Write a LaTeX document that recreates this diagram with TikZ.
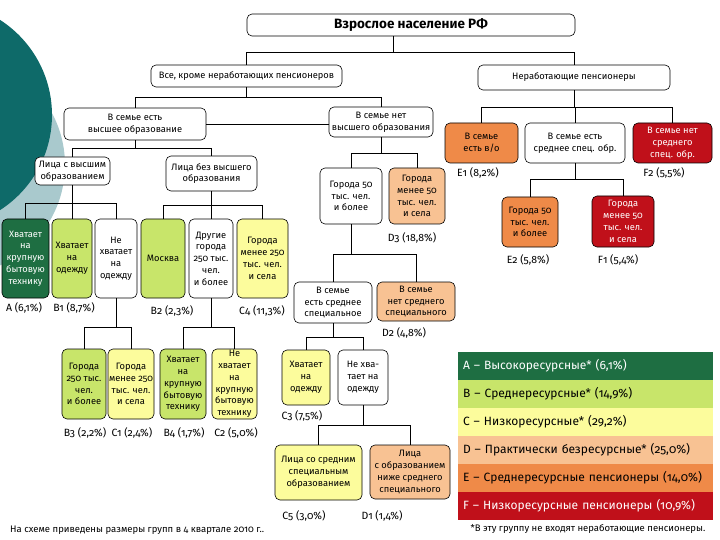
\documentclass[tikz,border=0pt]{standalone}
\usepackage{fontspec}
\setmainfont{Fira Sans}[Numbers=OldStyle]
\definecolor{cA}{HTML}{1E6E42}
\definecolor{cB}{HTML}{C8E56A}
\definecolor{cC}{HTML}{FCFC9C}
\definecolor{cD}{HTML}{F8C293}
\definecolor{cE}{HTML}{EF8A48}
\definecolor{cF}{HTML}{C0101A}
\definecolor{cTeal}{HTML}{0E6A69}
\definecolor{cLight}{HTML}{A9C9CD}
\newcommand\boxfont{\fontsize{9.3}{11.8}\selectfont}
\newcommand\lblfont{\fontsize{10.5}{12}\selectfont}
\newcommand\legfont{\fontsize{12}{14}\selectfont}
\begin{document}
\begin{tikzpicture}[x=1pt,y=-1pt,
  box/.style={draw=black, line width=0.6pt, rounded corners=5pt, align=center, inner sep=1pt, font=\boxfont, fill=white},
  lbl/.style={font=\lblfont, inner sep=0pt},
  conn/.style={draw=black, line width=0.6pt},
  leg/.style={minimum width=255pt, minimum height=28pt, text width=245pt, align=left, inner sep=0pt, font=\legfont}]
\useasboundingbox (0,0) rectangle (720,540);
\begin{scope}
\clip (0,0) rectangle (720,540);
\fill[cLight] (-45,165) circle (110pt);
\fill[cTeal] (-61,115) circle (113pt);
\end{scope}

% top levels
\node[box, minimum width=328pt, minimum height=22pt, font=\fontsize{13.5}{15}\selectfont\bfseries] (title) at (411,25) {Взрослое население РФ};
\node[box, minimum width=191pt, minimum height=22pt] (all) at (246.5,76) {Все, кроме неработающих пенсионеров};
\node[box, minimum width=192pt, minimum height=25pt] (pens) at (574,77.5) {Неработающие пенсионеры};
\node[box, minimum width=142pt, minimum height=32pt] (hi) at (135,124) {В семье есть\\высшее образование};
\node[box, minimum width=104pt, minimum height=30pt] (nohi) at (381,122) {В семье нет\\высшего образования};
\node[box, fill=cE, minimum width=73pt, minimum height=40pt] (pe) at (481.5,143) {В семье\\есть в/о};
\node[box, minimum width=100pt, minimum height=40pt] (ps) at (575,143) {В семье есть\\среднее спец. обр.};
\node[box, fill=cF, text=white, minimum width=79pt, minimum height=40pt] (pn) at (672.5,143) {В семье нет\\среднего\\спец. обр.};
\node[box, fill=cE, minimum width=56pt, minimum height=50pt] (e2) at (530,222) {Города 50\\тыс. чел.\\и более};
\node[box, fill=cF, text=white, minimum width=62pt, minimum height=51pt] (f1) at (623,221.5) {Города\\менее 50\\тыс. чел.\\и села};

% left branch
\node[box, minimum width=75pt, minimum height=28pt] (lvo) at (72.5,171) {Лица с высшим\\образованием};
\node[box, minimum width=91pt, minimum height=35pt] (lbvo) at (211.5,173.5) {Лица без высшего\\образования};
\node[box, fill=cA, text=white, minimum width=47pt, minimum height=79pt] (a) at (25.5,258.5) {Хватает\\на\\крупную\\бытовую\\технику};
\node[box, fill=cB, minimum width=40pt, minimum height=79pt] (b1) at (72,258.5) {Хватает\\на\\одежду};
\node[box, minimum width=42pt, minimum height=79pt] (nhv) at (116,258.5) {Не\\хватает\\на\\одежду};
\node[box, fill=cB, minimum width=44pt, minimum height=79pt] (msk) at (163,258.5) {Москва};
\node[box, minimum width=44pt, minimum height=79pt] (dg) at (211,258.5) {Другие\\города\\250 тыс.\\чел.\\и более};
\node[box, fill=cC, minimum width=51pt, minimum height=79pt] (c4) at (262.5,258.5) {Города\\менее 250\\тыс. чел.\\и села};
\node[box, fill=cB, minimum width=44pt, minimum height=70pt] (b3) at (84,384) {Города\\250 тыс.\\чел.\\и более};
\node[box, fill=cC, minimum width=46pt, minimum height=70pt] (c1) at (131,384) {Города\\менее 250\\тыс. чел.\\и села};
\node[box, fill=cB, minimum width=46pt, minimum height=70pt] (b4) at (183,384) {Хватает\\на\\крупную\\бытовую\\технику};
\node[box, fill=cC, minimum width=45pt, minimum height=70pt] (c2) at (234.5,384) {Не\\хватает\\на\\крупную\\бытовую\\технику};

% middle branch
\node[box, minimum width=62pt, minimum height=56pt] (g50) at (351,196) {Города 50\\тыс. чел.\\и более};
\node[box, fill=cD, minimum width=56pt, minimum height=56pt] (d3) at (417,196) {Города\\менее 50\\тыс. чел.\\и села};
\node[box, minimum width=78pt, minimum height=41pt] (ess) at (333,302.5) {В семье\\есть среднее\\специальное};
\node[box, fill=cD, minimum width=78pt, minimum height=39pt] (d2) at (416,301.5) {В семье\\нет среднего\\специального};
\node[box, fill=cC, minimum width=48pt, minimum height=55pt] (c3) at (306,377.5) {Хватает\\на\\одежду};
\node[box, minimum width=50pt, minimum height=55pt] (nho) at (363,377.5) {Не хва-\\тает на\\одежду};
\node[box, fill=cC, minimum width=87pt, minimum height=55pt] (c5) at (318.5,472.5) {Лица со средним\\специальным\\образованием};
\node[box, fill=cD, minimum width=80pt, minimum height=54pt] (d1) at (410,472) {Лица\\с образованием\\ниже среднего\\специального};

% labels
\node[lbl] (lA) at (24,308) {A (6,1\%)};
\node[lbl] (lB1) at (74,308) {B1 (8,7\%)};
\node[lbl] (lB2) at (172,311) {B2 (2,3\%)};
\node[lbl] (lC4) at (262,311) {C4 (11,3\%)};
\node[lbl] (lE1) at (478,173) {E1 (8,2\%)};
\node[lbl] (lF2) at (664,173) {F2 (5,5\%)};
\node[lbl] (lD3) at (412,238) {D3 (18,8\%)};
\node[lbl] (lE2) at (528,260) {E2 (5,8\%)};
\node[lbl] (lF1) at (618,260) {F1 (5,4\%)};
\node[lbl] (lD2) at (404,333) {D2 (4,8\%)};
\node[lbl] (lC3) at (302,416) {C3 (7,5\%)};
\node[lbl] (lB3) at (85,433) {B3 (2,2\%)};
\node[lbl] (lC1) at (132,433) {C1 (2,4\%)};
\node[lbl] (lB4) at (184,433) {B4 (1,7\%)};
\node[lbl] (lC2) at (236,433) {C2 (5,0\%)};
\node[lbl] (lC5) at (304,516) {C5 (3,0\%)};
\node[lbl] (lD1) at (382,516) {D1 (1,4\%)};

% connectors
\draw[conn] ([xshift=-18pt]title.south) -- ++(0,16) coordinate (j0);
\draw[conn] (j0) -| (all.north);
\draw[conn] (j0) -| (pens.north);
\draw[conn] (all.south) -- ++(0,10) coordinate (j1);
\draw[conn] (j1) -| (hi.north);
\draw[conn] (j1) -| (nohi.north);
\draw[conn] (hi.east) -- (hi.east -| nohi.west);
\draw[conn] (pens.south) -- ++(0,17) coordinate (j2);
\draw[conn] (j2) -| (pe.north);
\draw[conn] (j2) -| (ps.north);
\draw[conn] (j2) -| (pn.north);
\draw[conn] (ps.south) -- ++(0,16) coordinate (j3);
\draw[conn] (j3) -| (e2.north);
\draw[conn] (j3) -| (f1.north);
\draw[conn] (nohi.south) -- ++(0,16) coordinate (j4);
\draw[conn] (j4) -| (g50.north);
\draw[conn] (j4) -| (d3.north);
\draw[conn] (g50.south) -- ++(0,30) coordinate (j5);
\draw[conn] (j5) -| (ess.north);
\draw[conn] (j5) -| (d2.north);
\draw[conn] (ess.south) -- ++(0,14) coordinate (j6);
\draw[conn] (j6) -| (c3.north);
\draw[conn] (j6) -| (nho.north);
\draw[conn] (nho.south) -- ++(0,20) coordinate (j7);
\draw[conn] (j7) -| (c5.north);
\draw[conn] (j7) -| (d1.north);
\draw[conn] (hi.south) -- ++(0,8) coordinate (j8);
\draw[conn] (j8) -| (lvo.north);
\draw[conn] (j8) -| (lbvo.north);
\draw[conn] (lvo.south) -- ++(0,18) coordinate (j9);
\draw[conn] (j9) -| (a.north);
\draw[conn] (j9) -| (b1.north);
\draw[conn] (j9) -| (nhv.north);
\draw[conn] (lbvo.south) -- ++(0,14) coordinate (j10);
\draw[conn] (j10) -| (msk.north);
\draw[conn] (j10) -| (dg.north);
\draw[conn] (j10) -| (c4.north);
\draw[conn] (nhv.south) -- ++(0,29) coordinate (j11);
\draw[conn] (j11) -| (b3.north);
\draw[conn] (j11) -| (c1.north);
\draw[conn] (dg.south) -- ++(0,29) coordinate (j12);
\draw[conn] (j12) -| (b4.north);
\draw[conn] (j12) -| (c2.north);

% legend
\node[leg, fill=cA, text=white] (legA) at (585.5,366) {A – Высокоресурсные* (6,1\%)};
\node[leg, fill=cB] (legB) at (585.5,394) {B – Среднересурсные* (14,9\%)};
\node[leg, fill=cC] (legC) at (585.5,422) {C – Низкоресурсные* (29,2\%)};
\node[leg, fill=cD] (legD) at (585.5,450) {D – Практически безресурсные* (25,0\%)};
\node[leg, fill=cE] (legE) at (585.5,478) {E – Среднересурсные пенсионеры (14,0\%)};
\node[leg, fill=cF, text=white] (legF) at (585.5,506) {F – Низкоресурсные  пенсионеры (10,9\%)};

% footnotes
\node[anchor=west, inner sep=0pt, font=\fontsize{9.5}{11}\selectfont] (note1) at (10,530) {На схеме приведены размеры групп в 4 квартале 2010 г..};
\node[inner sep=0pt, font=\fontsize{9.5}{11}\selectfont] (note2) at (588,529) {*В эту группу не входят неработающие пенсионеры.};
\end{tikzpicture}
\end{document}
